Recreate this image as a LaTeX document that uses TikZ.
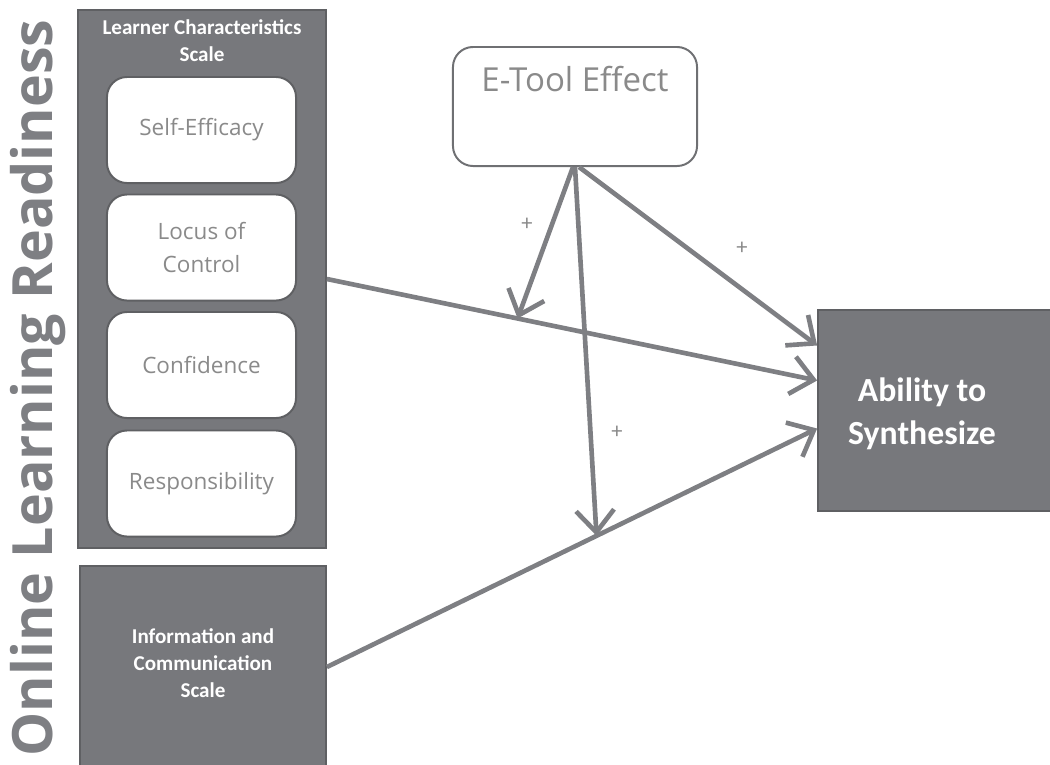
\documentclass[tikz,border=0pt]{standalone}
\usepackage{fontspec}
\setmainfont{Carlito}
\newfontfamily\osans{Open Sans}
\usetikzlibrary{arrows.meta,positioning}
\definecolor{panelgray}{HTML}{77787C}
\definecolor{edgegray}{HTML}{5F6063}
\definecolor{linegray}{HTML}{7E7F83}
\definecolor{textgray}{HTML}{8A8A8A}
\tikzset{
  panel/.style={draw=edgegray, line width=1.2pt, fill=panelgray},
  paneltext/.style={text=white, inner sep=0pt, align=center, font=\bfseries\fontsize{15}{19}\selectfont},
  trait/.style={draw=edgegray, line width=1.4pt, fill=white, rounded corners=0.5cm,
    minimum width=4.725cm, minimum height=2.65cm, text=textgray, align=center,
    font=\osans\fontsize{16}{23.5}\selectfont},
  link/.style={draw=linegray, line width=3.3pt, -{Straight Barb[length=5.5mm,width=9.5mm]}},
  sign/.style={text=textgray, font=\fontsize{16}{16}\selectfont}
}
\begin{document}
\begin{tikzpicture}[x=0.025cm,y=-0.025cm]
\useasboundingbox (0,0) rectangle (1050,764);
\node[rotate=90, text=linegray, font=\osans\bfseries\fontsize{39.5}{40}\selectfont] (olr) at (38,388) {Online Learning Readiness};
\node[panel, minimum width=6.2cm, minimum height=13.45cm] (lcs) at (202,279) {};
\node[paneltext] (lcstitle) at (202,41) {Learner Characteristics\\Scale};
\node[trait] (self) at (201.5,130) {Self-Efficacy};
\node[trait] (loc) at (201.5,247.5) {Locus of\\Control};
\node[trait] (conf) at (201.5,365) {Confidence};
\node[trait] (resp) at (201.5,483.5) {Responsibility};
\node[panel, minimum width=6.15cm, minimum height=5.05cm] (ict) at (203,667) {};
\node[paneltext] (icttext) at (203,663) {Information and\\Communication\\Scale};
\node[draw=edgegray!90, line width=1.4pt, fill=white, rounded corners=0.5cm,
  minimum width=6.1cm, minimum height=2.975cm] (et) at (575,106.5) {};
\node[inner sep=0pt, anchor=north, below=0.5cm of et.north, text=textgray,
  font=\osans\fontsize{23.5}{24}\selectfont] (ettext) {E-Tool Effect};
\node[panel, minimum width=5.95cm, minimum height=5.025cm] (abil) at (937,410.5) {};
\node[paneltext, font=\bfseries\fontsize{24}{30.5}\selectfont] (abiltext) at (922,414) {Ability to\\Synthesize};
\draw[link] (lcs.east) -- coordinate[pos=0.389] (m1) ([yshift=0.75cm]abil.west);
\draw[link] (ict.east) -- coordinate[pos=0.55] (m2) ([yshift=-0.45cm]abil.west);
\draw[link] ([xshift=-0.05cm]et.south) -- (m1);
\draw[link] (et.south) -- (m2);
\draw[link] ([xshift=0.1cm]et.south) -- ([yshift=1.625cm]abil.west);
\node[sign] (p1) at (527,224) {+};
\node[sign] (p2) at (742,248) {+};
\node[sign] (p3) at (617,432) {+};
\end{tikzpicture}
\end{document}
